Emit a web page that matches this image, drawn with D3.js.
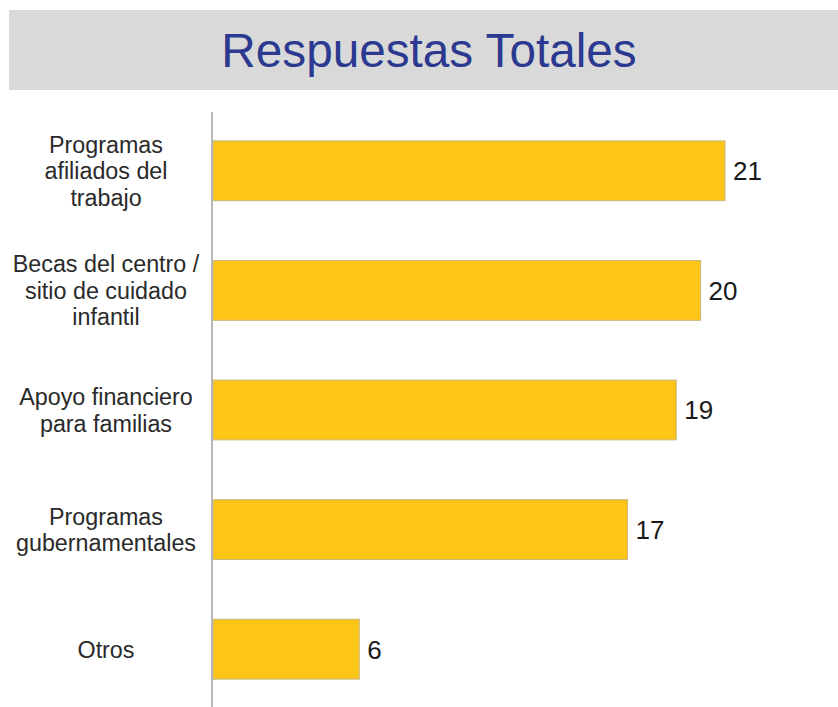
<!DOCTYPE html>
<html>
<head>
<meta charset="utf-8">
<script src="https://cdn.jsdelivr.net/npm/d3@7"></script>
<style>
  body { margin: 0; background: #fff; }
  svg { display: block; }
  svg text { font-family: Arial, "Liberation Sans", Helvetica, sans-serif; }
</style>
</head>
<body>
<svg id="chart" width="838" height="707"></svg>
<script>
// chart data
var title = "Respuestas Totales";
var categories = [
    ["Programas", "afiliados del", "trabajo"],
    ["Becas del centro /", "sitio de cuidado", "infantil"],
    ["Apoyo financiero", "para familias"],
    ["Programas", "gubernamentales"],
    ["Otros"]
];
var values = [21, 20, 19, 17, 6];

var svg = d3.select("#chart");
var W = 838, H = 707;

// title banner
svg.append("rect")
    .attr("x", 9).attr("y", 10)
    .attr("width", W - 9).attr("height", 80)
    .attr("fill", "#d9d9d9");

svg.append("text")
    .attr("x", 429).attr("y", 67)
    .attr("text-anchor", "middle")
    .attr("font-size", 47.7)
    .attr("fill", "#2b3990")
    .text(title);

var xScale = d3.scaleLinear().domain([0, 21]).range([213, 725]);
var yScale = d3.scaleBand()
    .domain(d3.range(values.length))
    .range([111, 709])
    .paddingInner(0.5)
    .paddingOuter(0.25);

// bars
svg.selectAll("rect.bar")
    .data(values)
    .enter().append("rect")
    .attr("class", "bar")
    .attr("x", xScale(0))
    .attr("y", (d, i) => yScale(i))
    .attr("width", (d) => xScale(d) - xScale(0))
    .attr("height", yScale.bandwidth())
    .attr("fill", "#fdc515")
    .attr("stroke", "#c9b57e")
    .attr("stroke-width", 1);

// axis line
svg.append("line")
    .attr("x1", 212).attr("x2", 212)
    .attr("y1", 112).attr("y2", H)
    .attr("stroke", "#b8b8b8")
    .attr("stroke-width", 2);

// value labels
svg.selectAll("text.val")
    .data(values)
    .enter().append("text")
    .attr("class", "val")
    .attr("x", (d) => xScale(d) + 8)
    .attr("y", (d, i) => yScale(i) + yScale.bandwidth() / 2)
    .attr("dy", "0.36em")
    .attr("font-size", 26)
    .attr("fill", "#1a1a1a")
    .text((d) => d);

// category labels
var lineH = 26.5;
svg.selectAll("text.cat")
    .data(categories)
    .enter().append("text")
    .attr("class", "cat")
    .attr("text-anchor", "middle")
    .attr("font-size", 23.3)
    .attr("fill", "#2a2a2a")
    .each(function (lines, i) {
        var cy = yScale(i) + yScale.bandwidth() / 2;
        var y0 = cy - (lines.length - 1) * lineH / 2;
        d3.select(this).selectAll("tspan")
            .data(lines)
            .enter().append("tspan")
            .attr("x", 106)
            .attr("y", (d, j) => y0 + j * lineH)
            .attr("dy", "0.36em")
            .text((d) => d);
    });
</script>
</body>
</html>
